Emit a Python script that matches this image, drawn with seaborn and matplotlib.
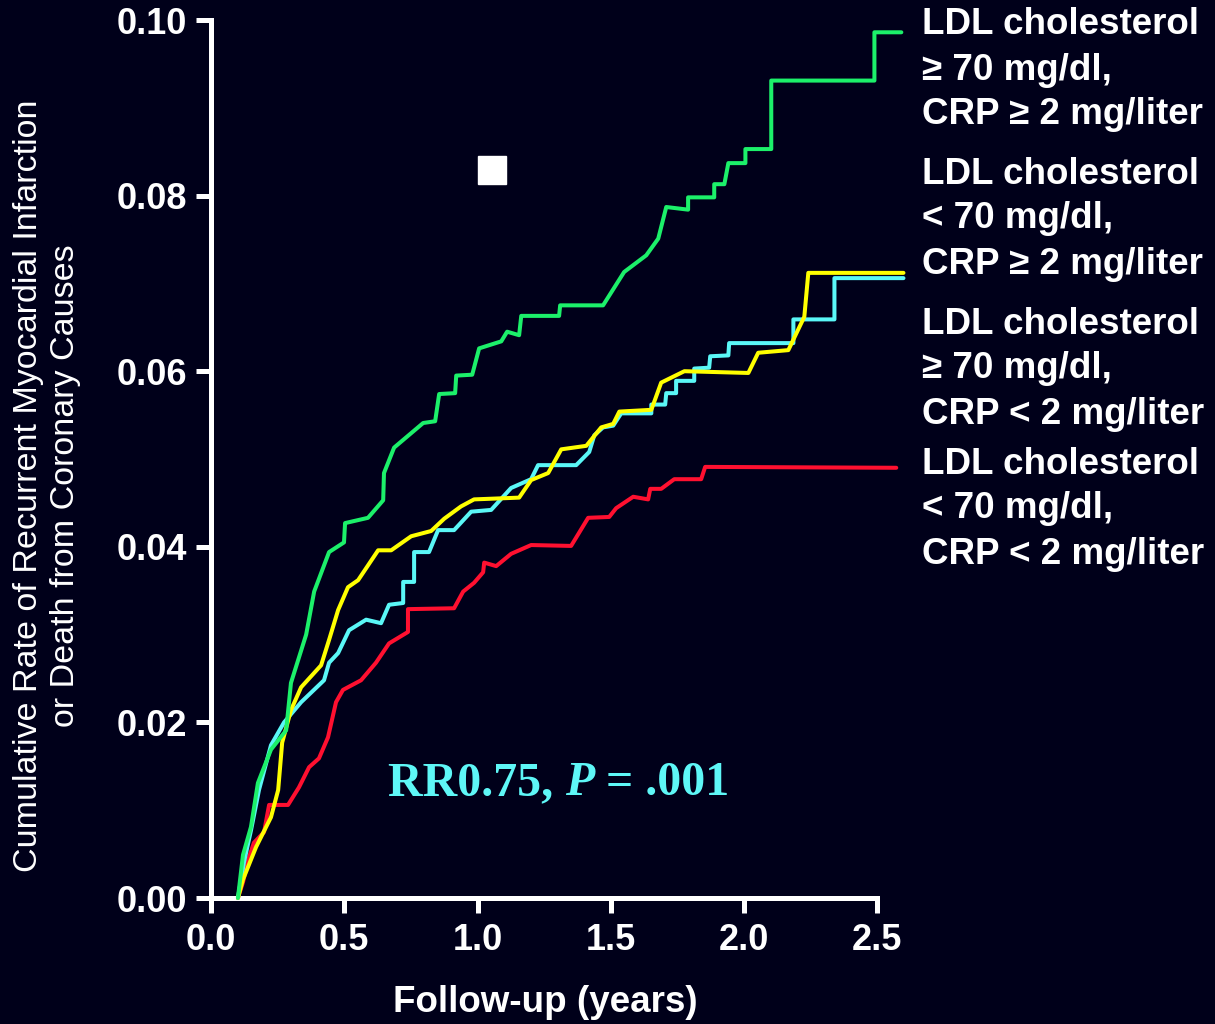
import numpy as np
import pandas as pd
import seaborn as sns
import matplotlib.pyplot as plt

# curvas acumuladas (años, tasa)
green_x = [0.101, 0.120, 0.150, 0.176, 0.225, 0.282, 0.300, 0.357, 0.387, 0.443, 0.499, 0.503,
           0.589, 0.646, 0.649, 0.687, 0.796, 0.841, 0.856, 0.916, 0.920, 0.980, 1.006, 1.089,
           1.111, 1.156, 1.164, 1.306, 1.310, 1.471, 1.550, 1.633, 1.678, 1.708, 1.790, 1.790,
           1.888, 1.888, 1.926, 1.941, 2.005, 2.005, 2.102, 2.102, 2.489, 2.489, 2.590]
green_y = [0.0, 0.0049, 0.0081, 0.0131, 0.0169, 0.0191, 0.0245, 0.0300, 0.0349, 0.0394, 0.0405, 0.0427,
           0.0433, 0.0453, 0.0484, 0.0513, 0.0541, 0.0543, 0.0574, 0.0575, 0.0595, 0.0596, 0.0626, 0.0634,
           0.0645, 0.0641, 0.0663, 0.0663, 0.0675, 0.0675, 0.0713, 0.0732, 0.0751, 0.0787, 0.0784, 0.0798,
           0.0798, 0.0813, 0.0813, 0.0837, 0.0837, 0.0853, 0.0853, 0.0931, 0.0931, 0.0986, 0.0986]

yellow_x = [0.101, 0.120, 0.169, 0.225, 0.252, 0.267, 0.300, 0.338, 0.413, 0.443, 0.477, 0.514,
            0.552, 0.627, 0.676, 0.751, 0.826, 0.875, 0.938, 0.987, 1.156, 1.201, 1.265, 1.314,
            1.408, 1.464, 1.509, 1.532, 1.652, 1.689, 1.776, 2.016, 2.053, 2.166, 2.226, 2.241, 2.598]
yellow_y = [0.0, 0.0021, 0.0058, 0.0092, 0.0123, 0.0177, 0.0214, 0.0240, 0.0265, 0.0294, 0.0328, 0.0354,
            0.0362, 0.0396, 0.0396, 0.0412, 0.0418, 0.0432, 0.0446, 0.0454, 0.0456, 0.0476, 0.0484, 0.0511,
            0.0515, 0.0536, 0.0540, 0.0554, 0.0556, 0.0587, 0.0600, 0.0598, 0.0621, 0.0624, 0.0662, 0.0712, 0.0712]

cyan_x = [0.101, 0.124, 0.150, 0.180, 0.225, 0.274, 0.338, 0.424, 0.443, 0.477, 0.518, 0.582,
          0.638, 0.668, 0.721, 0.721, 0.762, 0.762, 0.818, 0.852, 0.912, 0.976, 1.051, 1.126,
          1.201, 1.227, 1.370, 1.419, 1.438, 1.471, 1.509, 1.539, 1.652, 1.652, 1.704, 1.708,
          1.745, 1.745, 1.813, 1.813, 1.869, 1.873, 1.941, 1.944, 2.185, 2.185, 2.339, 2.339, 2.598]
cyan_y = [0.0, 0.0041, 0.0077, 0.0123, 0.0174, 0.0200, 0.0223, 0.0248, 0.0268, 0.0279, 0.0305, 0.0317,
          0.0313, 0.0334, 0.0336, 0.0360, 0.0360, 0.0394, 0.0394, 0.0419, 0.0419, 0.0440, 0.0442, 0.0467,
          0.0477, 0.0493, 0.0493, 0.0508, 0.0527, 0.0536, 0.0538, 0.0552, 0.0552, 0.0562, 0.0562, 0.0575,
          0.0575, 0.0589, 0.0589, 0.0603, 0.0604, 0.0617, 0.0618, 0.0632, 0.0632, 0.0659, 0.0659, 0.0706, 0.0706]

red_x = [0.101, 0.120, 0.139, 0.161, 0.199, 0.218, 0.289, 0.330, 0.368, 0.405, 0.439, 0.469,
         0.495, 0.563, 0.619, 0.668, 0.739, 0.739, 0.912, 0.946, 0.987, 1.021, 1.025, 1.070,
         1.126, 1.201, 1.351, 1.415, 1.494, 1.520, 1.584, 1.640, 1.648, 1.689, 1.738, 1.839,
         1.854, 2.571]
red_y = [0.0, 0.0018, 0.0043, 0.0063, 0.0075, 0.0106, 0.0106, 0.0126, 0.0149, 0.0159, 0.0183, 0.0223,
         0.0237, 0.0248, 0.0268, 0.0290, 0.0303, 0.0329, 0.0330, 0.0349, 0.0359, 0.0371, 0.0382, 0.0378,
         0.0392, 0.0402, 0.0401, 0.0433, 0.0434, 0.0444, 0.0457, 0.0454, 0.0466, 0.0466, 0.0477, 0.0477,
         0.0491, 0.0490]

groups = ['verde', 'amarillo', 'cian', 'rojo']
colores = {'verde': '#1cf06a', 'amarillo': '#ffff00', 'cian': '#5af7f7', 'rojo': '#ff1030'}

legend_labels = [
    ['LDL cholesterol', '\u2265 70 mg/dl,', 'CRP \u2265 2 mg/liter'],
    ['LDL cholesterol', '< 70 mg/dl,', 'CRP \u2265 2 mg/liter'],
    ['LDL cholesterol', '\u2265 70 mg/dl,', 'CRP < 2 mg/liter'],
    ['LDL cholesterol', '< 70 mg/dl,', 'CRP < 2 mg/liter'],
]
legend_top = [25, 174, 324, 464]   # pixel y de la primera línea de cada bloque

yticks = [0.00, 0.02, 0.04, 0.06, 0.08, 0.10]
xticks = [0.0, 0.5, 1.0, 1.5, 2.0, 2.5]

square_x = [1.055]
square_y = [0.0829]

bg = '#00001a'

frames = []
for g, xs, ys in zip(groups, [green_x, yellow_x, cyan_x, red_x], [green_y, yellow_y, cyan_y, red_y]):
    frames.append(pd.DataFrame({'x': xs, 'y': ys, 'grupo': g}))
df = pd.concat(frames, ignore_index=True)

sns.set_style('dark')
plt.rcParams['font.family'] = ['Liberation Sans', 'DejaVu Sans']

W, H = 1215, 1024
fig = plt.figure(figsize=(W / 100, H / 100), dpi=100, facecolor=bg)
ax = fig.add_axes([211 / W, 1 - 898 / H, 693 / W, 878 / H])
ax.set_facecolor(bg)

# dibujar en orden: rojo, cian, amarillo, verde (verde arriba)
for g in ['rojo', 'cian', 'amarillo', 'verde']:
    sns.lineplot(data=df[df['grupo'] == g], x='x', y='y', color=colores[g], estimator=None,
                 sort=False, linewidth=2.9, ax=ax, legend=False, clip_on=False, zorder=3)

ax.plot(square_x, square_y, marker='s', markersize=20, color='white', linestyle='none')

ax.set_xlim(0, 2.6)
ax.set_ylim(0, 0.10)
ax.set_xticks(xticks)
ax.set_yticks(yticks)
ax.set_xticklabels([f'{v:.1f}' for v in xticks])
ax.set_yticklabels([f'{v:.2f}' for v in yticks])
ax.grid(False)

for s in ['top', 'right']:
    ax.spines[s].set_visible(False)
for s in ['left', 'bottom']:
    ax.spines[s].set_color('white')
    ax.spines[s].set_linewidth(3.6)
ax.spines['bottom'].set_bounds(0, 2.5)

ax.tick_params(axis='both', colors='white', direction='out', length=11, width=3.6,
               labelsize=26, bottom=True, left=True)
ax.tick_params(axis='y', pad=6)
ax.tick_params(axis='x', pad=7)
for lab in ax.get_xticklabels() + ax.get_yticklabels():
    lab.set_fontweight('bold')

ax.set_xlabel('Follow-up (years)', color='white', fontsize=26.5, fontweight='bold')
ax.xaxis.set_label_coords((545 - 211) / 693, (898 - 1003) / 878)
ax.xaxis.label.set_va('center')

ax.set_ylabel('Cumulative Rate of Recurrent Myocardial Infarction\nor Death from Coronary Causes',
              color='white', fontsize=24.5, linespacing=1.25)
ax.yaxis.set_label_coords((47 - 211) / 693, (898 - 486) / 878)
ax.yaxis.label.set_va('center')

# bloques de texto a la derecha
for bloque, top in zip(legend_labels, legend_top):
    for i, linea in enumerate(bloque):
        fig.text(922 / W, 1 - (top + 45 * i) / H, linea, color='white', fontsize=26.5,
                 fontweight='bold', ha='left', va='center')

# texto RR en serif con P en cursiva
renderer = fig.canvas.get_renderer()
x0 = 388
base = 1 - 795 / H
piezas = [('RR0.75, ', 'normal'), ('P', 'italic'), (' = .001', 'normal')]
for txt, estilo in piezas:
    t = fig.text(x0 / W, base, txt, color='#5ef7f7', fontsize=34.5, fontweight='bold',
                 fontstyle=estilo, family=['Liberation Serif', 'DejaVu Serif'],
                 ha='left', va='baseline')
    bb = t.get_window_extent(renderer)
    x0 += bb.width

fig.savefig('out.png', dpi=100, facecolor=bg)
